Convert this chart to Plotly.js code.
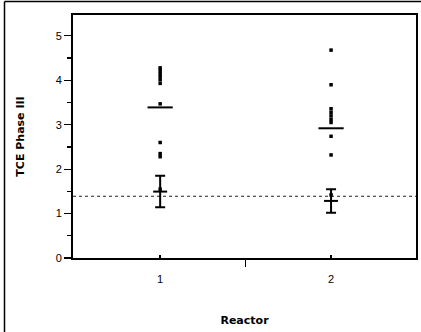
<!DOCTYPE html>
<html>
<head>
<meta charset="utf-8">
<script src="https://cdn.plot.ly/plotly-3.0.1.min.js"></script>
<style>
  html, body { margin: 0; padding: 0; background: #fff; }
  #chart { width: 421px; height: 332px; }
</style>
</head>
<body>
<div id="chart"></div>
<script>
// TCE Phase III measurements by reactor
const reactors = [1, 2];
const tickLabels = ['1', '2'];

// individual observations
const obsReactor1 = [4.28, 4.22, 4.15, 4.08, 4.01, 3.93, 3.47, 2.60, 2.35, 2.28, 1.55];
const obsReactor2 = [4.68, 3.90, 3.36, 3.28, 3.20, 3.12, 3.05, 2.74, 2.32, 1.42];

// group summary lines
const groupLines = [3.39, 2.92];

// interval: centre and half-width
const intervalMid = [1.495, 1.285];
const intervalHalf = [0.355, 0.265];

// overall reference level
const overallLevel = 1.39;

const tickFont = { family: 'Liberation Sans, Arial, sans-serif', size: 11, color: '#000' };
const titleFont = { family: 'DejaVu Sans, sans-serif', size: 11, color: '#000', weight: 'bold' };

const pointX = [];
const pointY = [];
obsReactor1.forEach(v => { pointX.push(reactors[0]); pointY.push(v); });
obsReactor2.forEach(v => { pointX.push(reactors[1]); pointY.push(v); });

const traces = [
  {
    type: 'scatter', mode: 'markers', x: pointX, y: pointY,
    marker: { symbol: 'square', size: 3.5, color: '#000', line: { width: 0 } },
    hoverinfo: 'y'
  },
  {
    type: 'scatter', mode: 'markers', x: reactors, y: groupLines,
    marker: { symbol: 'line-ew-open', size: 18, color: '#000', line: { width: 2, color: '#000' } },
    hoverinfo: 'y'
  },
  {
    type: 'scatter', mode: 'markers', x: reactors, y: intervalMid,
    marker: { symbol: 'line-ew-open', size: 10, color: '#000', line: { width: 2, color: '#000' } },
    error_y: { type: 'data', array: intervalHalf, visible: true, color: '#000', thickness: 2, width: 5 },
    hoverinfo: 'y'
  },
  {
    // carries the centre tick on the category axis
    type: 'scatter', mode: 'markers', x: [1.5], y: [0], xaxis: 'x2',
    marker: { size: 0, opacity: 0 }, hoverinfo: 'skip'
  }
];

const xRange = [0.49, 2.497];

const layout = {
  width: 421, height: 332,
  margin: { l: 73, r: 5, t: 15, b: 74 },
  paper_bgcolor: '#fff', plot_bgcolor: '#fff',
  showlegend: false,
  font: tickFont,
  xaxis: {
    range: xRange, tickvals: reactors, ticktext: tickLabels,
    ticks: 'inside', ticklen: 3, tickwidth: 2, tickcolor: '#000',
    ticklabelstandoff: 10,
    showline: true, linewidth: 2, linecolor: '#000', mirror: true,
    showgrid: false, zeroline: false, tickfont: tickFont,
    title: { text: 'Reactor', font: titleFont, standoff: 32 }
  },
  xaxis2: {
    overlaying: 'x', side: 'bottom', range: xRange, tickvals: [1.5], ticktext: [''],
    ticks: 'outside', ticklen: 8, tickwidth: 1.5, tickcolor: '#000',
    showline: false, showgrid: false, zeroline: false, showticklabels: false
  },
  yaxis: {
    range: [0, 5.47], tickvals: [0, 1, 2, 3, 4, 5],
    ticks: 'outside', ticklen: 7, tickwidth: 1.2, tickcolor: '#000',
    minor: { dtick: 0.5, tick0: 0, ticks: 'outside', ticklen: 4, tickwidth: 1.2, tickcolor: '#000', showgrid: false },
    showline: true, linewidth: 2, linecolor: '#000', mirror: true,
    showgrid: false, zeroline: false, tickfont: tickFont,
    title: { text: 'TCE Phase III', font: titleFont, standoff: 29 }
  },
  shapes: [
    { type: 'line', xref: 'paper', yref: 'y', x0: 0, x1: 1, y0: overallLevel, y1: overallLevel,
      line: { color: '#222', width: 1, dash: 'dot' }, layer: 'below' },
    // outer page frame
    { type: 'line', xref: 'paper', yref: 'paper', x0: -0.1997, x1: -0.1997, y0: -0.31, y1: 1.056,
      line: { color: '#000', width: 1.5 } },
    { type: 'line', xref: 'paper', yref: 'paper', x0: -0.1997, x1: 1.02, y0: 1.056, y1: 1.056,
      line: { color: '#000', width: 1.5 } }
  ]
};

Plotly.newPlot('chart', traces, layout, { displayModeBar: false, staticPlot: true });
</script>
</body>
</html>
